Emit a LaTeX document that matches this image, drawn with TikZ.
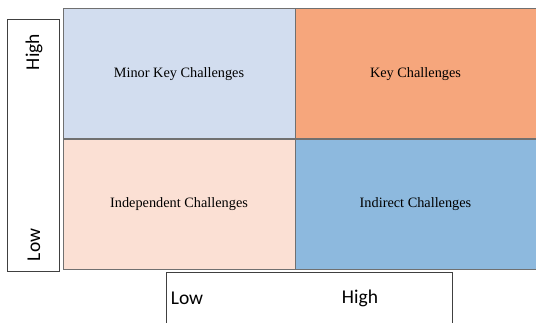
\documentclass[tikz,border=0pt]{standalone}
\usepackage{fontspec}
\setmainfont{Liberation Serif}
\newfontfamily\axisfont{Carlito}
\usetikzlibrary{positioning}
\definecolor{minorblue}{RGB}{210,221,239}
\definecolor{keyorange}{RGB}{246,166,124}
\definecolor{indpeach}{RGB}{251,224,212}
\definecolor{indirblue}{RGB}{141,185,222}
\definecolor{gridgray}{RGB}{112,112,112}

\begin{document}
\begin{tikzpicture}[x=1pt, y=1pt,
    quad/.style={draw=gridgray, line width=1pt, minimum width=232pt, minimum height=130pt, inner sep=0pt, text depth=3pt, font=\fontsize{14.3}{16}\selectfont},
    axisbox/.style={draw=black!75, line width=0.8pt, fill=white, inner sep=0pt},
    axislabel/.style={font=\axisfont\fontsize{19.5}{22}\selectfont, inner sep=0pt}]
    \clip (0,0) rectangle (536,322);
    
    % Quadrants
    \node[quad, fill=minorblue] at (179,248) (minor) {Minor Key Challenges};
    \node[quad, fill=keyorange, minimum width=241pt] at (415.5,248) (key) {Key Challenges};
    \node[quad, fill=indpeach] at (179,118) (indep) {Independent Challenges};
    \node[quad, fill=indirblue, minimum width=241pt] at (415.5,118) (indir) {Indirect Challenges};
    
    % Vertical axis
    \node[axisbox, minimum width=52pt, minimum height=252pt] at (33,177) (vaxis) {};
    \node[axislabel, rotate=90] at (34,270) (vhigh) {High};
    \node[axislabel, rotate=90] at (34,77) (vlow) {Low};
    
    % Horizontal axis
    \node[axisbox, minimum width=286pt, minimum height=60pt] at (309,20) (haxis) {};
    \node[axislabel] at (187,24) (hlow) {Low};
    \node[axislabel] at (360,24) (hhigh) {High};
\end{tikzpicture}
\end{document}
